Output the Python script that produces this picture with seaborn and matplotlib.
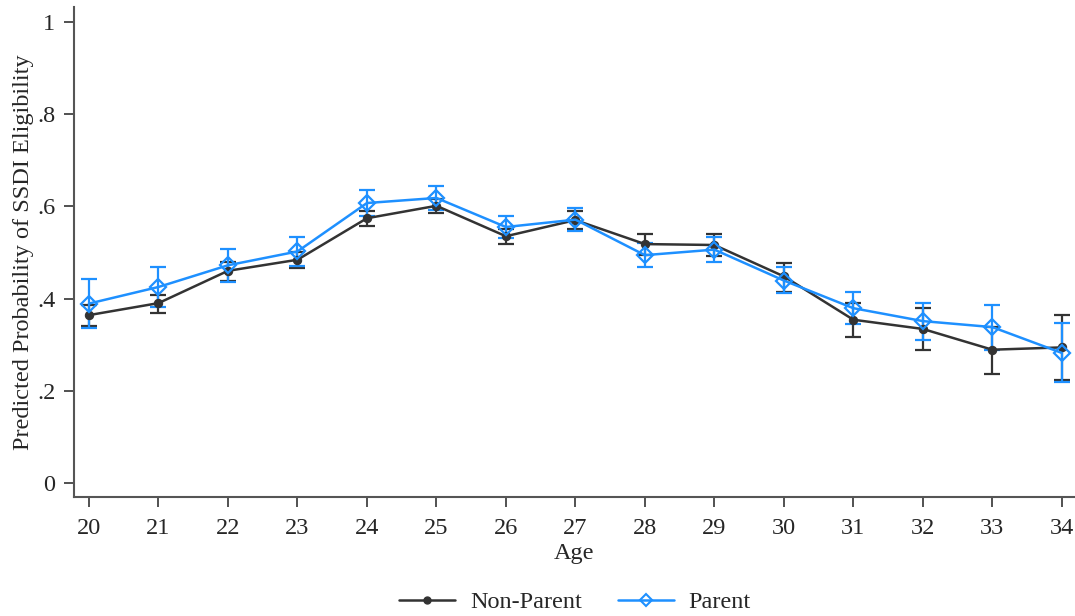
import numpy as np
import pandas as pd
import matplotlib
matplotlib.use("Agg")
import matplotlib.pyplot as plt
import seaborn as sns
from matplotlib.lines import Line2D

ages = list(range(20, 35))
groups = ["Non-Parent", "Parent"]

nonparent_mean = [0.364, 0.390, 0.460, 0.484, 0.574, 0.601, 0.535, 0.570, 0.518, 0.516, 0.448, 0.354, 0.334, 0.289, 0.294]
nonparent_lo   = [0.341, 0.369, 0.439, 0.466, 0.558, 0.586, 0.519, 0.550, 0.495, 0.492, 0.415, 0.317, 0.289, 0.237, 0.224]
nonparent_hi   = [0.386, 0.408, 0.480, 0.501, 0.589, 0.615, 0.551, 0.590, 0.540, 0.540, 0.477, 0.391, 0.380, 0.339, 0.364]

parent_mean = [0.389, 0.425, 0.472, 0.502, 0.607, 0.618, 0.555, 0.571, 0.494, 0.506, 0.439, 0.379, 0.351, 0.338, 0.282]
parent_lo   = [0.337, 0.382, 0.436, 0.471, 0.578, 0.592, 0.532, 0.547, 0.468, 0.479, 0.411, 0.344, 0.311, 0.289, 0.220]
parent_hi   = [0.442, 0.468, 0.508, 0.533, 0.636, 0.644, 0.578, 0.597, 0.520, 0.533, 0.468, 0.414, 0.390, 0.387, 0.347]

ytick_vals = [0, 0.2, 0.4, 0.6, 0.8, 1.0]
ytick_labels = ["0", ".2", ".4", ".6", ".8", "1"]

sns.set_style("ticks")
plt.rcParams["font.family"] = ["Liberation Serif", "DejaVu Serif"]

colors = {"Non-Parent": "#333333", "Parent": "#1E90FF"}

df = pd.DataFrame({
    "Age": ages * 2,
    "prob": nonparent_mean + parent_mean,
    "lo": nonparent_lo + parent_lo,
    "hi": nonparent_hi + parent_hi,
    "group": ["Non-Parent"] * len(ages) + ["Parent"] * len(ages),
})

fig = plt.figure(figsize=(10.75, 6.16), dpi=100)
ax = fig.add_axes([73.5 / 1075, (616 - 496.7) / 616, 1 - 73.5 / 1075, (496.7 - 7) / 616])

for g in groups:
    sub = df[df.group == g]
    c = colors[g]
    ax.errorbar(sub["Age"], sub["prob"],
                yerr=[sub["prob"] - sub["lo"], sub["hi"] - sub["prob"]],
                fmt="none", ecolor=c, elinewidth=1.6, capsize=6, capthick=1.6, zorder=2)
    if g == "Non-Parent":
        sns.lineplot(data=sub, x="Age", y="prob", ax=ax, color=c, lw=1.8,
                     marker="o", markersize=6, markeredgecolor=c, markerfacecolor=c,
                     zorder=3, legend=False)
    else:
        sns.lineplot(data=sub, x="Age", y="prob", ax=ax, color=c, lw=1.8,
                     marker="D", markersize=8, markeredgecolor=c, markerfacecolor="none",
                     markeredgewidth=1.6, zorder=4, legend=False)

ax.set_xlim(19.777, 34.19)
ax.set_ylim(-0.0297, 1.032)
ax.set_xticks(ages)
ax.set_xticklabels([str(a) for a in ages], fontsize=17.5)
ax.set_yticks(ytick_vals)
ax.set_yticklabels(ytick_labels, fontsize=17.5)
ax.tick_params(axis="both", direction="out", length=7, width=1.2, color="#333333")
ax.tick_params(axis="x", pad=8)
ax.tick_params(axis="y", pad=6)
for s in ["top", "right"]:
    ax.spines[s].set_visible(False)
for s in ["left", "bottom"]:
    ax.spines[s].set_linewidth(1.5)
    ax.spines[s].set_color("#555555")
ax.set_xlabel("Age", fontsize=17.5, labelpad=3)
ax.set_ylabel("Predicted Probability of SSDI Eligibility", fontsize=17.5, labelpad=2)

handles = [
    Line2D([], [], color=colors["Non-Parent"], lw=1.8, marker="o", markersize=5),
    Line2D([], [], color=colors["Parent"], lw=1.8, marker="D", markersize=6,
           markerfacecolor="none", markeredgewidth=1.5),
]
fig.legend(handles, groups, loc="center", bbox_to_anchor=(0.535, 0.022), ncol=2,
           frameon=False, fontsize=17.5, handlelength=2.3, columnspacing=1.5, handletextpad=0.6)

fig.savefig("out.png", dpi=100)
